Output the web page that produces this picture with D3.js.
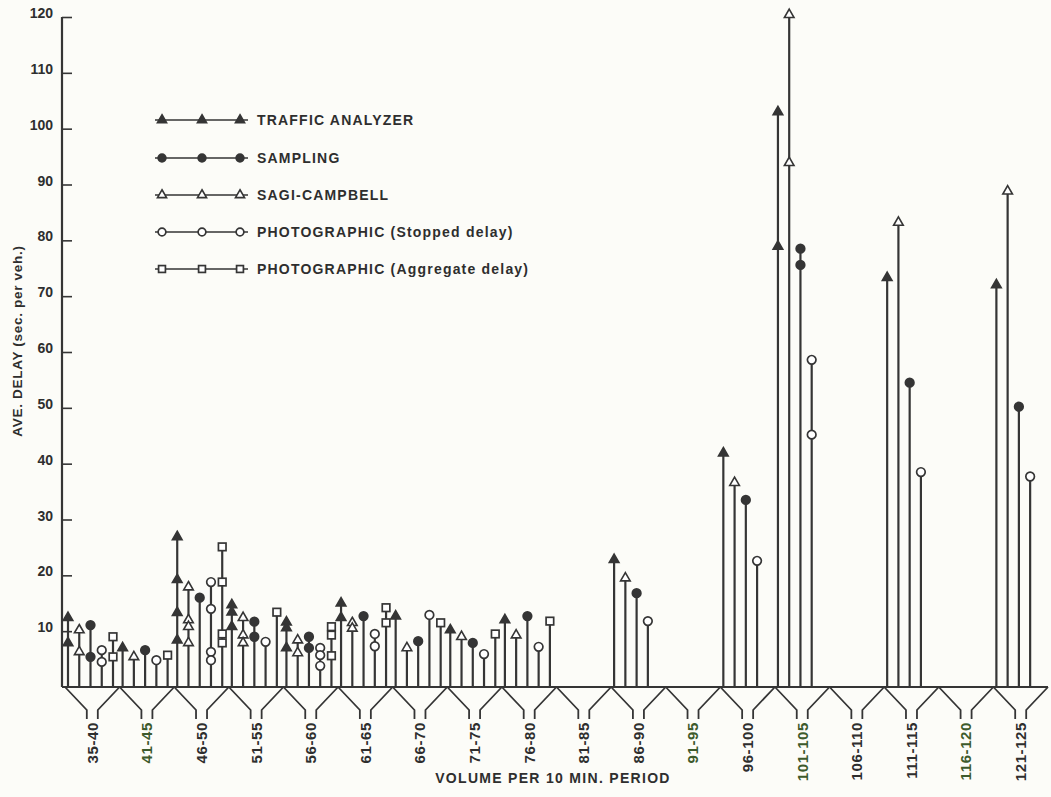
<html>
<style>
    body { margin: 0px; background: #fcfcf8; }
    text { font-family: "Liberation Sans", Arial, sans-serif; font-weight: bold; fill: #2e2e2e; }
</style>
<body>
<svg id="viz"></svg>
</body>
<script src="https://d3js.org/d3.v7.min.js"></script>
<script>
// volume groups (x axis)
var groups = ["35-40", "41-45", "46-50", "51-55", "56-60", "61-65", "66-70", "71-75", "76-80",
              "81-85", "86-90", "91-95", "96-100", "101-105", "106-110", "111-115", "116-120", "121-125"];
var greenLabels = ["41-45", "91-95", "101-105", "116-120"];

// ave. delay values per group, one array of observations per group
var trafficAnalyzer = [[12.4, 7.9], [7.0], [26.9, 19.2, 13.3, 8.4], [14.7, 13.4, 10.8], [11.6, 10.6, 7.0],
    [15.0, 12.4], [12.7], [10.2], [12.0], [], [22.8], [], [41.9], [103.0, 78.9], [], [73.3], [], [72.0]];
var sagiCampbell = [[10.2, 6.3], [5.4], [17.9, 12.0, 10.8, 7.9], [12.4, 9.3, 7.9], [8.4, 6.1],
    [11.5, 10.5], [7.0], [9.0], [9.3], [], [19.5], [], [36.6], [120.4, 93.9], [], [83.2], [], [88.8]];
var sampling = [[11.1, 5.4], [6.6], [16.0], [11.7, 9.0], [9.0, 7.0],
    [12.7], [8.2], [7.9], [12.7], [], [16.8], [], [33.5], [78.5, 75.6], [], [54.5], [], [50.2]];
var photoStopped = [[6.6, 4.5], [4.8], [18.8, 14.0, 6.3, 4.8], [8.1], [7.0, 5.7, 3.8],
    [9.5, 7.3], [12.9], [5.9], [7.2], [], [11.8], [], [22.6], [58.6, 45.2], [], [38.5], [], [37.7]];
var photoAggregate = [[9.0, 5.4], [5.7], [25.1, 18.8, 9.5, 7.9], [13.4], [10.8, 9.3, 5.6],
    [14.2, 11.5], [11.5], [9.5], [11.8], [], [], [], [], [], [], [], [], []];

var yTicks = [10, 20, 30, 40, 50, 60, 70, 80, 90, 100, 110, 120];

// stem order inside each group
var methods = [
    {key: "ta", label: "TRAFFIC ANALYZER", values: trafficAnalyzer},
    {key: "sc", label: "SAGI-CAMPBELL", values: sagiCampbell},
    {key: "s", label: "SAMPLING", values: sampling},
    {key: "ps", label: "PHOTOGRAPHIC (Stopped delay)", values: photoStopped},
    {key: "pa", label: "PHOTOGRAPHIC (Aggregate delay)", values: photoAggregate}
];
var legendOrder = ["ta", "s", "sc", "ps", "pa"];

var width = 1051, height = 797;
var ink = "#353535";

var svg = d3.select("#viz").attr("width", width).attr("height", height);

var x = d3.scaleBand().domain(groups).range([65, 1048]).padding(0);
var xm = d3.scalePoint().domain(methods.map(function(d) { return d.key; })).range([3, 48]);
var y = d3.scaleLinear().domain([0, 120]).range([687, 17]);

function drawMarker(sel, key, big) {
    var k = big ? 1 : 0.9;
    if (key == "ta" || key == "sc") {
        sel.append("path")
            .attr("d", d3.symbol().type(d3.symbolTriangle).size(40 * k)())
            .attr("fill", key == "ta" ? ink : "#fff")
            .attr("stroke", ink).attr("stroke-width", 1.6);
    } else if (key == "s" || key == "ps") {
        sel.append("circle")
            .attr("r", 4.3 * k)
            .attr("fill", key == "s" ? ink : "#fff")
            .attr("stroke", ink).attr("stroke-width", 1.7);
    } else {
        var h = 3.8 * k;
        sel.append("rect")
            .attr("x", -h).attr("y", -h).attr("width", 2 * h).attr("height", 2 * h)
            .attr("fill", "#fff")
            .attr("stroke", ink).attr("stroke-width", 1.7);
    }
}

// y axis: line with ticks to the right, labels to the left
var yAxis = svg.append("g").attr("transform", "translate(62,0)")
    .call(d3.axisRight(y).tickValues(yTicks).tickSize(10).tickFormat(""));
yAxis.select(".domain").attr("d", "M0," + y(120) + "V" + y(0)).attr("stroke", ink).attr("stroke-width", 2.2);
yAxis.selectAll(".tick line").attr("stroke", ink).attr("stroke-width", 1.6);

svg.append("g").selectAll("text")
    .data(yTicks)
    .enter().append("text")
    .attr("x", 53)
    .attr("y", function(d) { return y(d) + 1; })
    .attr("text-anchor", "end")
    .style("font-size", "14px")
    .text(function(d) { return d; });

svg.append("text")
    .attr("transform", "translate(22," + 341 + ") rotate(-90)")
    .attr("text-anchor", "middle")
    .style("font-size", "13.5px")
    .style("letter-spacing", "0.7px")
    .text("AVE. DELAY (sec. per veh.)");

// baseline
svg.append("line")
    .attr("x1", 62).attr("x2", 1048)
    .attr("y1", y(0)).attr("y2", y(0))
    .attr("stroke", ink).attr("stroke-width", 2.2);

// funnel brackets under the baseline
var neck = 5.5;
svg.append("g").selectAll("path")
    .data(groups)
    .enter().append("path")
    .attr("d", function(g) {
        var x0 = x(g), x1 = x(g) + x.bandwidth(), c = x0 + x.bandwidth() / 2;
        return "M" + x0 + "," + y(0) + "L" + (c - neck) + ",710V719" +
               "M" + x1 + "," + y(0) + "L" + (c + neck) + ",710V719";
    })
    .attr("fill", "none")
    .attr("stroke", ink)
    .attr("stroke-width", 1.8);

svg.append("g").selectAll("text")
    .data(groups)
    .enter().append("text")
    .attr("transform", function(g) {
        return "translate(" + (x(g) + x.bandwidth() / 2) + ",722) rotate(-90)";
    })
    .attr("text-anchor", "end")
    .attr("dy", "0.36em")
    .style("font-size", "15px")
    .style("letter-spacing", "0.6px")
    .style("fill", function(g) { return greenLabels.indexOf(g) >= 0 ? "#3d5a2c" : "#2e2e2e"; })
    .text(function(g) { return g; });

svg.append("text")
    .attr("x", 553).attr("y", 783)
    .attr("text-anchor", "middle")
    .style("font-size", "14px")
    .style("letter-spacing", "1.3px")
    .text("VOLUME PER 10 MIN. PERIOD");

// stems and markers
var stems = [], points = [];
methods.forEach(function(m) {
    m.values.forEach(function(vals, i) {
        if (!vals.length) return;
        var px = x(groups[i]) + xm(m.key);
        stems.push({x: px, top: d3.max(vals)});
        vals.forEach(function(v) { points.push({x: px, v: v, key: m.key}); });
    });
});

svg.append("g").selectAll("line")
    .data(stems)
    .enter().append("line")
    .attr("x1", function(d) { return d.x; })
    .attr("x2", function(d) { return d.x; })
    .attr("y1", y(0))
    .attr("y2", function(d) { return y(d.top); })
    .attr("stroke", ink)
    .attr("stroke-width", 2.2);

svg.append("g").selectAll("g")
    .data(points)
    .enter().append("g")
    .attr("transform", function(d) { return "translate(" + d.x + "," + y(d.v) + ")"; })
    .each(function(d) { drawMarker(d3.select(this), d.key, true); });

// legend
var legendY = [120, 158, 195, 232, 269];
var legend = svg.append("g").selectAll("g")
    .data(legendOrder)
    .enter().append("g")
    .attr("transform", function(d, i) { return "translate(0," + legendY[i] + ")"; });

legend.append("line")
    .attr("x1", 155).attr("x2", 248)
    .attr("stroke", ink).attr("stroke-width", 1.6);

legend.each(function(key) {
    var g = d3.select(this);
    [162, 202, 240].forEach(function(px) {
        drawMarker(g.append("g").attr("transform", "translate(" + px + ",0)"), key, false);
    });
});

legend.append("text")
    .attr("x", 257)
    .attr("dy", "0.36em")
    .style("font-size", "14px")
    .style("letter-spacing", "1.2px")
    .text(function(key) {
        return methods.find(function(m) { return m.key == key; }).label;
    });
</script>
</html>
